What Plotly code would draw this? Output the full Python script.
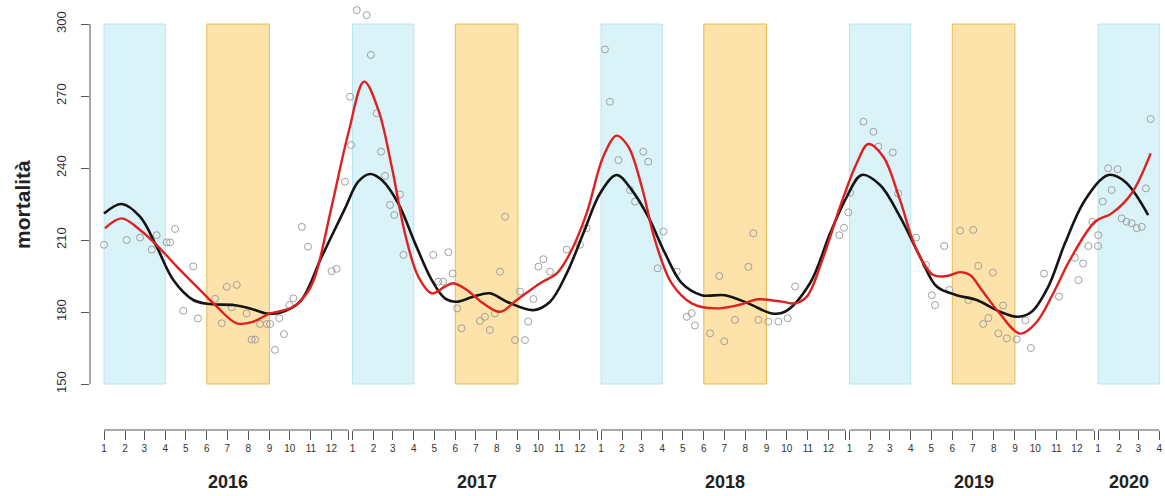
import plotly.graph_objects as go

# ---- data (decimal year, mortality) ----
obs_t = [2016.000, 2016.091, 2016.145, 2016.192, 2016.212, 2016.252, 2016.266, 2016.286, 2016.319, 2016.359,
         2016.378, 2016.447, 2016.474, 2016.494, 2016.514, 2016.534, 2016.574, 2016.594, 2016.608, 2016.628,
         2016.655, 2016.668, 2016.688, 2016.705, 2016.724, 2016.746, 2016.762, 2016.796, 2016.821, 2016.916,
         2016.936,
         2016.970, 2016.990, 2016.994, 2017.017, 2017.057, 2017.074, 2017.097, 2017.115, 2017.131, 2017.151,
         2017.168, 2017.191, 2017.205, 2017.325, 2017.345, 2017.365, 2017.386, 2017.403, 2017.421, 2017.439,
         2017.513, 2017.533, 2017.553, 2017.573, 2017.594, 2017.614, 2017.654, 2017.674, 2017.694, 2017.707,
         2017.728, 2017.748, 2017.768, 2017.795, 2017.862, 2017.915, 2017.942,
         2018.016, 2018.036, 2018.070, 2018.117, 2018.137, 2018.170, 2018.190, 2018.228, 2018.251, 2018.305,
         2018.345, 2018.365, 2018.378, 2018.439, 2018.476, 2018.496, 2018.539, 2018.593, 2018.613, 2018.633,
         2018.673, 2018.714, 2018.751, 2018.781, 2018.959, 2018.978,
         2018.995, 2019.002, 2019.056, 2019.096, 2019.116, 2019.174, 2019.196, 2019.268, 2019.308, 2019.331,
         2019.344, 2019.381, 2019.402, 2019.445, 2019.478, 2019.498, 2019.518, 2019.538, 2019.559, 2019.577,
         2019.599, 2019.618, 2019.633, 2019.673, 2019.708, 2019.730, 2019.783, 2019.843, 2019.907, 2019.921,
         2019.940, 2019.961, 2019.977, 2020.000, 2020.001,
         2020.019, 2020.041, 2020.055, 2020.079, 2020.095, 2020.115, 2020.135, 2020.156, 2020.176, 2020.193,
         2020.212]
obs_v = [208.0, 210.0, 211.0, 206.0, 212.0, 209.0, 209.0, 214.6, 180.5, 199.0,
         177.3, 185.5, 175.3, 190.5, 182.0, 191.3, 179.4, 168.5, 168.5, 175.0,
         175.0, 175.0, 164.2, 177.4, 170.8, 182.9, 185.7, 215.5, 207.2, 197.0,
         198.0,
         234.3, 269.7, 249.6, 305.8, 303.7, 287.1, 262.8, 246.8, 236.7, 224.6,
         220.4, 229.0, 203.8, 203.8, 192.6, 192.6, 204.9, 196.0, 181.5, 173.2,
         176.3, 178.0, 172.5, 179.4, 196.8, 219.7, 168.3, 188.5, 168.3, 176.0,
         185.4, 198.9, 202.0, 196.8, 206.0, 208.0, 214.9,
         289.4, 267.6, 243.3, 230.8, 226.0, 246.8, 242.6, 198.2, 213.5, 196.8,
         178.0, 179.5, 174.4, 171.1, 195.0, 167.8, 176.7, 198.8, 212.8, 176.7,
         176.0, 176.0, 177.4, 190.6, 212.0, 215.1,
         221.5, 229.7, 259.3, 255.1, 248.9, 246.5, 229.4, 211.0, 199.6, 187.0,
         182.9, 207.5, 189.2, 213.9, 185.0, 214.2, 199.2, 175.0, 177.5, 196.4,
         171.1, 182.7, 169.0, 168.6, 176.5, 165.0, 196.0, 186.4, 202.6, 193.3,
         200.2, 207.5, 217.6, 207.5, 212.0,
         226.0, 239.9, 230.8, 239.5, 219.0, 217.6, 217.0, 214.9, 215.5, 231.5,
         260.4]

black_t = [2016.000, 2016.071, 2016.145, 2016.212, 2016.279, 2016.359, 2016.427, 2016.520, 2016.588, 2016.655,
           2016.708, 2016.789, 2016.876, 2016.970, 2017.023, 2017.070, 2017.118, 2017.184, 2017.252, 2017.319,
           2017.372, 2017.419, 2017.486, 2017.553, 2017.621, 2017.728, 2017.795, 2017.862, 2017.929, 2017.996,
           2018.063, 2018.124, 2018.190, 2018.258, 2018.325, 2018.405, 2018.499, 2018.593, 2018.687, 2018.740,
           2018.841, 2018.922, 2018.989, 2019.049, 2019.123, 2019.203, 2019.284, 2019.351, 2019.431, 2019.512,
           2019.606, 2019.679, 2019.733, 2019.800, 2019.867, 2019.948, 2020.042, 2020.109, 2020.202]
black_v = [221.0, 225.0, 219.7, 207.2, 193.3, 185.0, 183.3, 182.9, 181.5, 179.4,
           179.7, 184.3, 203.0, 223.2, 234.3, 237.5, 235.0, 225.3, 208.6, 193.3,
           185.7, 184.3, 186.4, 187.8, 184.3, 180.8, 184.3, 196.1, 212.8, 229.4,
           237.1, 230.8, 219.7, 204.4, 192.0, 187.0, 187.0, 183.6, 179.4, 180.1,
           192.0, 212.8, 228.0, 237.1, 232.9, 219.7, 203.0, 190.6, 187.0, 185.0,
           180.1, 178.0, 180.1, 190.6, 208.6, 226.7, 237.1, 234.3, 220.4]

red_t = [2016.004, 2016.071, 2016.145, 2016.212, 2016.293, 2016.373, 2016.454, 2016.534, 2016.601, 2016.668,
         2016.708, 2016.762, 2016.816, 2016.849, 2016.916, 2016.983, 2017.047, 2017.104, 2017.158, 2017.211,
         2017.265, 2017.319, 2017.372, 2017.406, 2017.460, 2017.526, 2017.594, 2017.661, 2017.755, 2017.822,
         2017.875, 2017.942, 2018.009, 2018.063, 2018.110, 2018.164, 2018.217, 2018.284, 2018.365, 2018.459,
         2018.553, 2018.633, 2018.727, 2018.781, 2018.828, 2018.895, 2018.962, 2019.029, 2019.076, 2019.136,
         2019.203, 2019.270, 2019.337, 2019.391, 2019.445, 2019.485, 2019.532, 2019.599, 2019.686, 2019.749,
         2019.820, 2019.887, 2019.988, 2020.055, 2020.135, 2020.212]
red_v = [214.9, 219.0, 214.2, 207.9, 198.9, 190.6, 182.2, 175.3, 176.0, 179.4,
         180.3, 182.2, 187.8, 194.7, 223.9, 254.4, 276.0, 264.2, 240.5, 212.8,
         194.7, 187.8, 190.6, 192.0, 189.2, 183.6, 180.1, 185.0, 192.0, 196.1,
         204.4, 221.1, 244.7, 253.5, 248.9, 232.2, 210.0, 192.0, 183.6, 181.5,
         182.9, 185.3, 184.3, 183.6, 186.4, 203.0, 223.9, 242.0, 250.0, 244.7,
         226.7, 205.8, 195.4, 195.0, 196.6, 195.4, 189.2, 180.1, 171.0, 175.3,
         187.8, 201.7, 217.6, 221.1, 229.4, 246.1]

years = [2016, 2017, 2018, 2019, 2020]
winter_years = [2016, 2017, 2018, 2019, 2020]
summer_years = [2016, 2017, 2018, 2019]
month_start_days = [0, 31, 59, 90, 120, 151, 181, 212, 243, 273, 304, 334]
y_ticks = [150, 180, 210, 240, 270, 300]

FONT = "Liberation Sans, Arial, sans-serif"

# ---- figure ----
fig = go.Figure()

fig.add_trace(go.Scatter(x=obs_t, y=obs_v, mode="markers",
                         marker=dict(symbol="circle-open", size=7, color="#a0a0a0",
                                     line=dict(width=1, color="#a0a0a0")),
                         showlegend=False, hoverinfo="skip"))
fig.add_trace(go.Scatter(x=black_t, y=black_v, mode="lines",
                         line=dict(color="#151515", width=2.6, shape="spline", smoothing=1.0),
                         showlegend=False))
fig.add_trace(go.Scatter(x=red_t, y=red_v, mode="lines",
                         line=dict(color="#e02020", width=2.4, shape="spline", smoothing=1.0),
                         showlegend=False))

shapes = []
for yr in winter_years:
    shapes.append(dict(type="rect", xref="x", yref="y", x0=yr, x1=yr + 90 / 365,
                       y0=y_ticks[0], y1=y_ticks[-1], fillcolor="#daf3f8",
                       line=dict(color="#b8e6ee", width=1), layer="below"))
for yr in summer_years:
    shapes.append(dict(type="rect", xref="x", yref="y", x0=yr + 151 / 365, x1=yr + 243 / 365,
                       y0=y_ticks[0], y1=y_ticks[-1], fillcolor="#fde2aa",
                       line=dict(color="#e6bb55", width=1), layer="below"))
# y-axis line only over tick range (R style)
shapes.append(dict(type="line", xref="paper", yref="y", x0=0, x1=0,
                   y0=y_ticks[0], y1=y_ticks[-1], line=dict(color="#555555", width=1)))

tickvals, ticktext = [], []
for yr in years:
    n_months = 12 if yr < 2020 else 4
    for m in range(n_months):
        tickvals.append(yr + month_start_days[m] / 365)
        ticktext.append(str(m + 1))
    if yr < 2020:
        end = yr + 0.984
        tickvals.append(end)
        ticktext.append("")
    else:
        end = yr + 90 / 365
        tickvals.append(end)
        ticktext.append("4")
    shapes.append(dict(type="line", xref="x", yref="paper", x0=yr, x1=end, y0=0, y1=0,
                       line=dict(color="#555555", width=1)))

annotations = []
for yr in years:
    xc = yr + 0.5 if yr < 2020 else yr + 45 / 365
    annotations.append(dict(x=xc, y=-0.121, xref="x", yref="paper", text=f"<b>{yr}</b>",
                            showarrow=False, font=dict(size=18, color="#222222", family=FONT),
                            xanchor="center", yanchor="middle"))
annotations.append(dict(x=-0.0633, y=225, xref="paper", yref="y", text="<b>mortalità</b>",
                        textangle=-90, showarrow=False,
                        font=dict(size=21, color="#222222", family=FONT),
                        xanchor="center", yanchor="middle"))

px_per_year = 248.5
x_left = 2016 - 14 / px_per_year
x_right = 2016 + 1061 / px_per_year

fig.update_layout(
    width=1165, height=496,
    margin=dict(l=90, r=0, t=0, b=66, autoexpand=False),
    paper_bgcolor="white", plot_bgcolor="white",
    font=dict(family=FONT, color="#333333"),
    shapes=shapes, annotations=annotations,
    xaxis=dict(range=[x_left, x_right], showgrid=False, zeroline=False, showline=False,
               automargin=False,
               tickmode="array", tickvals=tickvals, ticktext=ticktext,
               ticks="outside", ticklen=9, tickwidth=1, tickcolor="#555555",
               tickfont=dict(size=10, color="#333333"), tickangle=0),
    yaxis=dict(range=[130.833, 310], showgrid=False, zeroline=False, showline=False,
               automargin=False,
               tickmode="array", tickvals=y_ticks, ticks="outside", ticklen=8,
               tickwidth=1, tickcolor="#555555", tickangle=-90,
               tickfont=dict(size=13, color="#333333"), ticklabelstandoff=10),
)

fig.write_html("out.html", config={"displayModeBar": False},
               post_script="document.body.style.margin='0';document.body.style.overflow='hidden';")
